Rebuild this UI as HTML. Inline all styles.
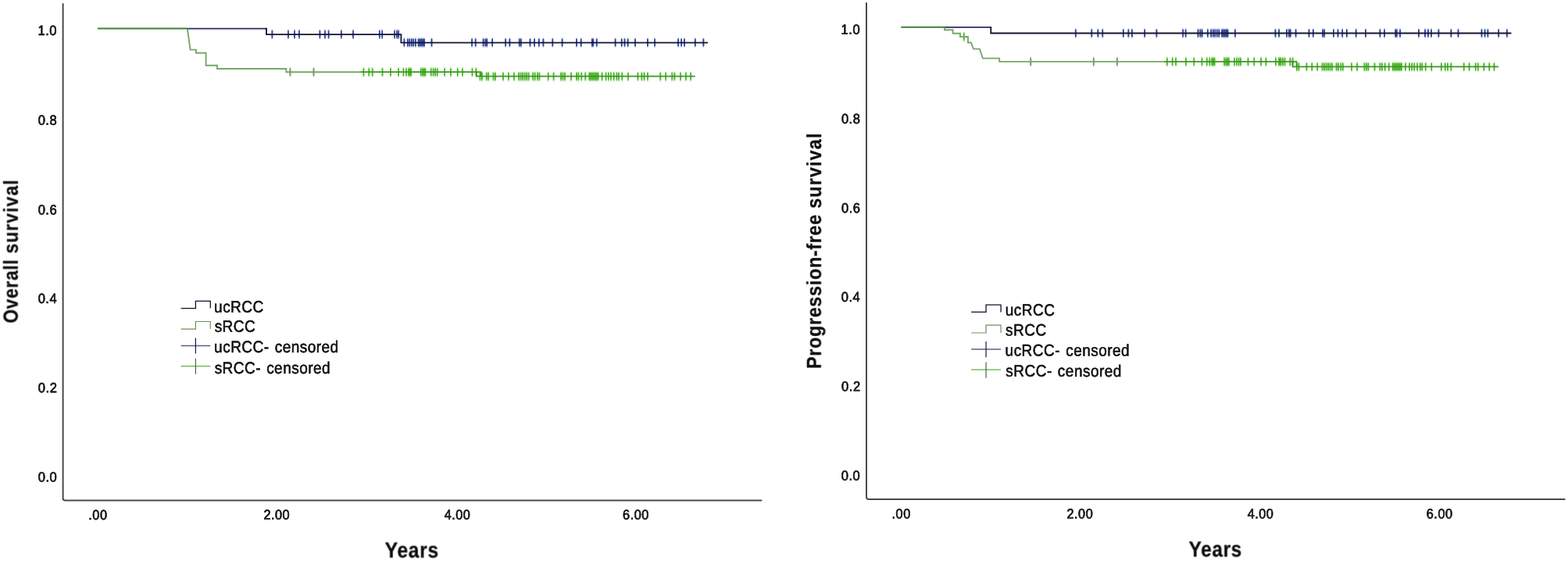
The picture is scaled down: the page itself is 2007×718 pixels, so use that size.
<!DOCTYPE html>
<html lang="en">
<head>
<meta charset="utf-8">
<title>Kaplan-Meier curves: overall survival and progression-free survival</title>
<style>
html,body{margin:0;padding:0;background:#fff;}
body{width:2007px;height:718px;overflow:hidden;}
svg{display:block;}
text{font-family:"Liberation Sans",Arial,Helvetica,sans-serif;fill:#0a0a0a;stroke:#0a0a0a;stroke-linejoin:round;stroke-linecap:round;text-rendering:geometricPrecision;}
.tk{stroke-width:0.7px;letter-spacing:0.55px;}
.ttl{font-weight:bold;stroke-width:0.25px;letter-spacing:0.8px;}
.sv{letter-spacing:1.3px;}
.lg{stroke-width:0.55px;letter-spacing:0.5px;word-spacing:1.5px;}
</style>
</head>
<body>
<svg width="2007" height="718" viewBox="0 0 2007 718">
<defs>
<filter id="soft" x="-5%" y="-5%" width="110%" height="110%"><feGaussianBlur stdDeviation="0.5"/></filter>
<filter id="softl" x="-5%" y="-5%" width="110%" height="110%"><feGaussianBlur stdDeviation="0.38"/></filter>
<filter id="softt" x="-5%" y="-5%" width="110%" height="110%"><feGaussianBlur stdDeviation="0.3"/></filter>
</defs>
<rect x="0" y="0" width="2007" height="718" fill="#ffffff"/>
<g filter="url(#soft)">
<path d="M80.6,5V637.5Q80.6,640.5 83.6,640.5H974.5" stroke="#4a4a4a" stroke-width="2.0" stroke-linecap="round" fill="none"/>
<path d="M348.4,37.8V50.0M368.9,37.8V50.0M377.0,37.8V50.0M382.9,37.8V50.0M409.4,37.8V50.0M416.0,37.8V50.0M420.6,37.8V50.0M436.8,37.8V50.0M452.0,37.8V50.0M485.8,37.8V50.0M489.2,37.8V50.0M505.1,37.8V50.0M508.0,37.8V50.0M510.2,37.8V50.0" stroke="#2a3f98" stroke-width="1.7" fill="none" opacity="0.5"/><path d="M348.4,39.4V48.4M368.9,39.4V48.4M377.0,39.4V48.4M382.9,39.4V48.4M409.4,39.4V48.4M416.0,39.4V48.4M420.6,39.4V48.4M436.8,39.4V48.4M452.0,39.4V48.4M485.8,39.4V48.4M489.2,39.4V48.4M505.1,39.4V48.4M508.0,39.4V48.4M510.2,39.4V48.4" stroke="#2a3f98" stroke-width="1.7" fill="none"/>
<path d="M517.4,48.4V60.6M521.8,48.4V60.6M524.3,48.4V60.6M526.8,48.4V60.6M529.3,48.4V60.6M531.9,48.4V60.6M535.6,48.4V60.6M537.5,48.4V60.6M539.4,48.4V60.6M541.3,48.4V60.6M543.1,48.4V60.6M552.5,48.4V60.6M604.1,48.4V60.6M608.7,48.4V60.6M618.6,48.4V60.6M621.4,48.4V60.6M623.3,48.4V60.6M630.2,48.4V60.6M647.1,48.4V60.6M652.4,48.4V60.6M664.7,48.4V60.6M666.8,48.4V60.6M678.5,48.4V60.6M684.1,48.4V60.6M689.8,48.4V60.6M695.4,48.4V60.6M707.3,48.4V60.6M719.6,48.4V60.6M738.0,48.4V60.6M743.7,48.4V60.6M757.8,48.4V60.6M759.3,48.4V60.6M763.7,48.4V60.6M787.6,48.4V60.6M795.7,48.4V60.6M799.5,48.4V60.6M803.6,48.4V60.6M813.0,48.4V60.6M829.0,48.4V60.6M838.1,48.4V60.6M868.1,48.4V60.6M872.2,48.4V60.6M876.0,48.4V60.6M889.8,48.4V60.6M900.4,48.4V60.6" stroke="#2a3f98" stroke-width="1.7" fill="none" opacity="0.5"/><path d="M517.4,50.0V59.0M521.8,50.0V59.0M524.3,50.0V59.0M526.8,50.0V59.0M529.3,50.0V59.0M531.9,50.0V59.0M535.6,50.0V59.0M537.5,50.0V59.0M539.4,50.0V59.0M541.3,50.0V59.0M543.1,50.0V59.0M552.5,50.0V59.0M604.1,50.0V59.0M608.7,50.0V59.0M618.6,50.0V59.0M621.4,50.0V59.0M623.3,50.0V59.0M630.2,50.0V59.0M647.1,50.0V59.0M652.4,50.0V59.0M664.7,50.0V59.0M666.8,50.0V59.0M678.5,50.0V59.0M684.1,50.0V59.0M689.8,50.0V59.0M695.4,50.0V59.0M707.3,50.0V59.0M719.6,50.0V59.0M738.0,50.0V59.0M743.7,50.0V59.0M757.8,50.0V59.0M759.3,50.0V59.0M763.7,50.0V59.0M787.6,50.0V59.0M795.7,50.0V59.0M799.5,50.0V59.0M803.6,50.0V59.0M813.0,50.0V59.0M829.0,50.0V59.0M838.1,50.0V59.0M868.1,50.0V59.0M872.2,50.0V59.0M876.0,50.0V59.0M889.8,50.0V59.0M900.4,50.0V59.0" stroke="#2a3f98" stroke-width="1.7" fill="none"/>
<path d="M465.4,86.2V98.4M472.3,86.2V98.4M476.7,86.2V98.4M489.5,86.2V98.4M499.9,86.2V98.4M510.1,86.2V98.4M516.4,86.2V98.4M519.9,86.2V98.4M522.8,86.2V98.4M524.6,86.2V98.4M526.2,86.2V98.4M538.7,86.2V98.4M540.9,86.2V98.4M542.7,86.2V98.4M544.5,86.2V98.4M551.7,86.2V98.4M554.6,86.2V98.4M557.2,86.2V98.4M559.7,86.2V98.4M569.1,86.2V98.4M576.9,86.2V98.4M585.7,86.2V98.4M592.0,86.2V98.4M604.5,86.2V98.4M609.4,86.2V98.4" stroke="#48b426" stroke-width="1.7" fill="none" opacity="0.5"/><path d="M465.4,87.8V96.8M472.3,87.8V96.8M476.7,87.8V96.8M489.5,87.8V96.8M499.9,87.8V96.8M510.1,87.8V96.8M516.4,87.8V96.8M519.9,87.8V96.8M522.8,87.8V96.8M524.6,87.8V96.8M526.2,87.8V96.8M538.7,87.8V96.8M540.9,87.8V96.8M542.7,87.8V96.8M544.5,87.8V96.8M551.7,87.8V96.8M554.6,87.8V96.8M557.2,87.8V96.8M559.7,87.8V96.8M569.1,87.8V96.8M576.9,87.8V96.8M585.7,87.8V96.8M592.0,87.8V96.8M604.5,87.8V96.8M609.4,87.8V96.8" stroke="#48b426" stroke-width="1.7" fill="none"/>
<path d="M614.5,91.7V103.9M617.0,91.7V103.9M622.7,91.7V103.9M625.2,91.7V103.9M631.5,91.7V103.9M634.0,91.7V103.9M644.0,91.7V103.9M650.9,91.7V103.9M657.8,91.7V103.9M664.1,91.7V103.9M666.6,91.7V103.9M669.1,91.7V103.9M671.6,91.7V103.9M674.1,91.7V103.9M676.6,91.7V103.9M682.2,91.7V103.9M684.7,91.7V103.9M687.9,91.7V103.9M690.4,91.7V103.9M701.7,91.7V103.9M708.6,91.7V103.9M718.0,91.7V103.9M720.5,91.7V103.9M723.0,91.7V103.9M731.1,91.7V103.9M738.0,91.7V103.9M740.5,91.7V103.9M744.3,91.7V103.9M749.3,91.7V103.9M754.3,91.7V103.9M756.2,91.7V103.9M758.1,91.7V103.9M760.0,91.7V103.9M761.9,91.7V103.9M763.7,91.7V103.9M765.6,91.7V103.9M770.6,91.7V103.9M775.6,91.7V103.9M778.8,91.7V103.9M781.9,91.7V103.9M785.7,91.7V103.9M789.4,91.7V103.9M791.9,91.7V103.9M796.3,91.7V103.9M803.9,91.7V103.9M816.4,91.7V103.9M821.4,91.7V103.9M824.6,91.7V103.9M829.0,91.7V103.9M845.3,91.7V103.9M852.2,91.7V103.9M860.3,91.7V103.9M863.4,91.7V103.9M871.0,91.7V103.9M877.9,91.7V103.9M884.1,91.7V103.9" stroke="#48b426" stroke-width="1.7" fill="none" opacity="0.5"/><path d="M614.5,93.3V102.3M617.0,93.3V102.3M622.7,93.3V102.3M625.2,93.3V102.3M631.5,93.3V102.3M634.0,93.3V102.3M644.0,93.3V102.3M650.9,93.3V102.3M657.8,93.3V102.3M664.1,93.3V102.3M666.6,93.3V102.3M669.1,93.3V102.3M671.6,93.3V102.3M674.1,93.3V102.3M676.6,93.3V102.3M682.2,93.3V102.3M684.7,93.3V102.3M687.9,93.3V102.3M690.4,93.3V102.3M701.7,93.3V102.3M708.6,93.3V102.3M718.0,93.3V102.3M720.5,93.3V102.3M723.0,93.3V102.3M731.1,93.3V102.3M738.0,93.3V102.3M740.5,93.3V102.3M744.3,93.3V102.3M749.3,93.3V102.3M754.3,93.3V102.3M756.2,93.3V102.3M758.1,93.3V102.3M760.0,93.3V102.3M761.9,93.3V102.3M763.7,93.3V102.3M765.6,93.3V102.3M770.6,93.3V102.3M775.6,93.3V102.3M778.8,93.3V102.3M781.9,93.3V102.3M785.7,93.3V102.3M789.4,93.3V102.3M791.9,93.3V102.3M796.3,93.3V102.3M803.9,93.3V102.3M816.4,93.3V102.3M821.4,93.3V102.3M824.6,93.3V102.3M829.0,93.3V102.3M845.3,93.3V102.3M852.2,93.3V102.3M860.3,93.3V102.3M863.4,93.3V102.3M871.0,93.3V102.3M877.9,93.3V102.3M884.1,93.3V102.3" stroke="#48b426" stroke-width="1.7" fill="none"/>
<path d="M371.4,86.1V98.3M401.5,86.1V98.3" stroke="#6f9060" stroke-width="1.7" fill="none" opacity="0.5"/><path d="M371.4,87.7V96.7M401.5,87.7V96.7" stroke="#6f9060" stroke-width="1.7" fill="none"/>
</g>
<g filter="url(#softl)">
<path d="M239,36.6H340.3" stroke="#2a2c66" stroke-width="1.85" fill="none"/>
<path d="M339.6,36.6H341V44.1H513.4V54.6H906" stroke="#12152f" stroke-width="1.85" fill="none"/>
<path d="M239.8,36.5L243.6,63.6H251V67.7H263.6V83.7H278V88H366.4V92.2H463" stroke="#76a868" stroke-width="1.9" fill="none"/>
<path d="M462,92.2H615.5V97.7H889.8M610,92.2V97.7H616" stroke="#3d9724" stroke-width="1.7" fill="none"/>
<path d="M125,36.5H240" stroke="#3c8236" stroke-width="2.0" fill="none"/>
</g>
<g filter="url(#softl)">
<path d="M231.6,394.6H250.4V385.4H269.3V394.4" stroke="#10132a" stroke-width="1.3" fill="none"/>
<path d="M231.6,421.2H250.4V411.5H269.3V421.0" stroke="#6b935a" stroke-width="1.2" fill="none"/>
<path d="M231.6,442.4H269.3" stroke="#59618a" stroke-width="1.5" fill="none"/>
<path d="M250.4,432.4V452.6" stroke="#161b3c" stroke-width="1.2" fill="none"/>
<path d="M231.6,468.6H269.3" stroke="#62b043" stroke-width="1.4" fill="none"/>
<path d="M250.4,458.8V478.7" stroke="#3f6d2e" stroke-width="1.2" fill="none"/>
</g>
<g filter="url(#soft)">
<path d="M1109,4V636Q1109,639 1112,639H2002.7" stroke="#4a4a4a" stroke-width="2.0" stroke-linecap="round" fill="none"/>
<path d="M1376.8,36.4V48.6M1397.3,36.4V48.6M1405.4,36.4V48.6M1411.3,36.4V48.6M1437.8,36.4V48.6M1444.4,36.4V48.6M1449.0,36.4V48.6M1465.2,36.4V48.6M1480.4,36.4V48.6M1514.2,36.4V48.6M1517.6,36.4V48.6M1533.5,36.4V48.6M1536.4,36.4V48.6M1538.6,36.4V48.6M1545.8,36.4V48.6M1550.2,36.4V48.6M1552.7,36.4V48.6M1555.2,36.4V48.6M1557.7,36.4V48.6M1560.3,36.4V48.6M1564.0,36.4V48.6M1565.9,36.4V48.6M1567.8,36.4V48.6M1569.7,36.4V48.6M1571.5,36.4V48.6M1580.9,36.4V48.6M1632.5,36.4V48.6M1637.1,36.4V48.6M1647.0,36.4V48.6M1649.8,36.4V48.6M1651.7,36.4V48.6M1658.6,36.4V48.6M1675.5,36.4V48.6M1680.8,36.4V48.6M1693.1,36.4V48.6M1695.2,36.4V48.6M1706.9,36.4V48.6M1712.5,36.4V48.6M1718.2,36.4V48.6M1723.8,36.4V48.6M1735.7,36.4V48.6M1748.0,36.4V48.6M1766.4,36.4V48.6M1772.1,36.4V48.6M1786.2,36.4V48.6M1787.7,36.4V48.6M1792.1,36.4V48.6M1816.0,36.4V48.6M1824.1,36.4V48.6M1827.9,36.4V48.6M1832.0,36.4V48.6M1841.4,36.4V48.6M1857.4,36.4V48.6M1866.5,36.4V48.6M1896.5,36.4V48.6M1900.6,36.4V48.6M1904.4,36.4V48.6M1918.2,36.4V48.6M1928.8,36.4V48.6" stroke="#2a3f98" stroke-width="1.7" fill="none" opacity="0.5"/><path d="M1376.8,38.0V47.0M1397.3,38.0V47.0M1405.4,38.0V47.0M1411.3,38.0V47.0M1437.8,38.0V47.0M1444.4,38.0V47.0M1449.0,38.0V47.0M1465.2,38.0V47.0M1480.4,38.0V47.0M1514.2,38.0V47.0M1517.6,38.0V47.0M1533.5,38.0V47.0M1536.4,38.0V47.0M1538.6,38.0V47.0M1545.8,38.0V47.0M1550.2,38.0V47.0M1552.7,38.0V47.0M1555.2,38.0V47.0M1557.7,38.0V47.0M1560.3,38.0V47.0M1564.0,38.0V47.0M1565.9,38.0V47.0M1567.8,38.0V47.0M1569.7,38.0V47.0M1571.5,38.0V47.0M1580.9,38.0V47.0M1632.5,38.0V47.0M1637.1,38.0V47.0M1647.0,38.0V47.0M1649.8,38.0V47.0M1651.7,38.0V47.0M1658.6,38.0V47.0M1675.5,38.0V47.0M1680.8,38.0V47.0M1693.1,38.0V47.0M1695.2,38.0V47.0M1706.9,38.0V47.0M1712.5,38.0V47.0M1718.2,38.0V47.0M1723.8,38.0V47.0M1735.7,38.0V47.0M1748.0,38.0V47.0M1766.4,38.0V47.0M1772.1,38.0V47.0M1786.2,38.0V47.0M1787.7,38.0V47.0M1792.1,38.0V47.0M1816.0,38.0V47.0M1824.1,38.0V47.0M1827.9,38.0V47.0M1832.0,38.0V47.0M1841.4,38.0V47.0M1857.4,38.0V47.0M1866.5,38.0V47.0M1896.5,38.0V47.0M1900.6,38.0V47.0M1904.4,38.0V47.0M1918.2,38.0V47.0M1928.8,38.0V47.0" stroke="#2a3f98" stroke-width="1.7" fill="none"/>
<path d="M1233.8,40.9V53.1" stroke="#48b426" stroke-width="1.7" fill="none" opacity="0.5"/><path d="M1233.8,42.5V51.5" stroke="#48b426" stroke-width="1.7" fill="none"/>
<path d="M1493.8,72.8V85.0M1500.7,72.8V85.0M1505.1,72.8V85.0M1517.9,72.8V85.0M1528.3,72.8V85.0M1538.5,72.8V85.0M1544.8,72.8V85.0M1548.3,72.8V85.0M1551.2,72.8V85.0M1553.0,72.8V85.0M1554.6,72.8V85.0M1567.1,72.8V85.0M1569.3,72.8V85.0M1571.1,72.8V85.0M1572.9,72.8V85.0M1580.1,72.8V85.0M1583.0,72.8V85.0M1585.6,72.8V85.0M1588.1,72.8V85.0M1597.5,72.8V85.0M1605.3,72.8V85.0M1614.1,72.8V85.0M1620.4,72.8V85.0M1632.9,72.8V85.0M1637.9,72.8V85.0M1637.0,72.8V85.0M1639.5,72.8V85.0M1642.0,72.8V85.0M1644.5,72.8V85.0M1651.4,72.8V85.0M1654.6,72.8V85.0" stroke="#48b426" stroke-width="1.7" fill="none" opacity="0.5"/><path d="M1493.8,74.4V83.4M1500.7,74.4V83.4M1505.1,74.4V83.4M1517.9,74.4V83.4M1528.3,74.4V83.4M1538.5,74.4V83.4M1544.8,74.4V83.4M1548.3,74.4V83.4M1551.2,74.4V83.4M1553.0,74.4V83.4M1554.6,74.4V83.4M1567.1,74.4V83.4M1569.3,74.4V83.4M1571.1,74.4V83.4M1572.9,74.4V83.4M1580.1,74.4V83.4M1583.0,74.4V83.4M1585.6,74.4V83.4M1588.1,74.4V83.4M1597.5,74.4V83.4M1605.3,74.4V83.4M1614.1,74.4V83.4M1620.4,74.4V83.4M1632.9,74.4V83.4M1637.9,74.4V83.4M1637.0,74.4V83.4M1639.5,74.4V83.4M1642.0,74.4V83.4M1644.5,74.4V83.4M1651.4,74.4V83.4M1654.6,74.4V83.4" stroke="#48b426" stroke-width="1.7" fill="none"/>
<path d="M1659.9,79.4V91.6M1662.4,79.4V91.6M1672.4,79.4V91.6M1679.3,79.4V91.6M1686.2,79.4V91.6M1692.5,79.4V91.6M1695.0,79.4V91.6M1697.5,79.4V91.6M1700.0,79.4V91.6M1702.5,79.4V91.6M1705.0,79.4V91.6M1710.6,79.4V91.6M1713.1,79.4V91.6M1716.3,79.4V91.6M1718.8,79.4V91.6M1730.1,79.4V91.6M1737.0,79.4V91.6M1746.4,79.4V91.6M1748.9,79.4V91.6M1751.4,79.4V91.6M1759.5,79.4V91.6M1766.4,79.4V91.6M1768.9,79.4V91.6M1772.7,79.4V91.6M1777.7,79.4V91.6M1782.7,79.4V91.6M1784.6,79.4V91.6M1786.5,79.4V91.6M1788.4,79.4V91.6M1790.3,79.4V91.6M1792.1,79.4V91.6M1794.0,79.4V91.6M1799.0,79.4V91.6M1804.0,79.4V91.6M1807.2,79.4V91.6M1810.3,79.4V91.6M1814.1,79.4V91.6M1817.8,79.4V91.6M1820.3,79.4V91.6M1824.7,79.4V91.6M1832.3,79.4V91.6M1844.8,79.4V91.6M1849.8,79.4V91.6M1853.0,79.4V91.6M1857.4,79.4V91.6M1873.7,79.4V91.6M1880.6,79.4V91.6M1888.7,79.4V91.6M1891.8,79.4V91.6M1899.4,79.4V91.6M1906.3,79.4V91.6M1912.5,79.4V91.6" stroke="#48b426" stroke-width="1.7" fill="none" opacity="0.5"/><path d="M1659.9,81.0V90.0M1662.4,81.0V90.0M1672.4,81.0V90.0M1679.3,81.0V90.0M1686.2,81.0V90.0M1692.5,81.0V90.0M1695.0,81.0V90.0M1697.5,81.0V90.0M1700.0,81.0V90.0M1702.5,81.0V90.0M1705.0,81.0V90.0M1710.6,81.0V90.0M1713.1,81.0V90.0M1716.3,81.0V90.0M1718.8,81.0V90.0M1730.1,81.0V90.0M1737.0,81.0V90.0M1746.4,81.0V90.0M1748.9,81.0V90.0M1751.4,81.0V90.0M1759.5,81.0V90.0M1766.4,81.0V90.0M1768.9,81.0V90.0M1772.7,81.0V90.0M1777.7,81.0V90.0M1782.7,81.0V90.0M1784.6,81.0V90.0M1786.5,81.0V90.0M1788.4,81.0V90.0M1790.3,81.0V90.0M1792.1,81.0V90.0M1794.0,81.0V90.0M1799.0,81.0V90.0M1804.0,81.0V90.0M1807.2,81.0V90.0M1810.3,81.0V90.0M1814.1,81.0V90.0M1817.8,81.0V90.0M1820.3,81.0V90.0M1824.7,81.0V90.0M1832.3,81.0V90.0M1844.8,81.0V90.0M1849.8,81.0V90.0M1853.0,81.0V90.0M1857.4,81.0V90.0M1873.7,81.0V90.0M1880.6,81.0V90.0M1888.7,81.0V90.0M1891.8,81.0V90.0M1899.4,81.0V90.0M1906.3,81.0V90.0M1912.5,81.0V90.0" stroke="#48b426" stroke-width="1.7" fill="none"/>
<path d="M1319.3,72.8V85.0M1399.8,72.8V85.0M1429.9,72.8V85.0" stroke="#6f9060" stroke-width="1.7" fill="none" opacity="0.5"/><path d="M1319.3,74.4V83.4M1399.8,74.4V83.4M1429.9,74.4V83.4" stroke="#6f9060" stroke-width="1.7" fill="none"/>
</g>
<g filter="url(#softl)">
<path d="M1208,34.9H1267.6" stroke="#2a2c66" stroke-width="1.85" fill="none"/>
<path d="M1267,34.9H1268.3V42.5H1934.4" stroke="#12152f" stroke-width="1.85" fill="none"/>
<path d="M1209,34.8V38.2H1219.6V42.8H1229V47H1239V54.5H1242.8L1246,62.6H1254L1257.9,74.6H1279.2V78.9H1490" stroke="#76a868" stroke-width="1.9" fill="none"/>
<path d="M1490,78.8H1659.6V85.4H1918M1654.6,78.8V85.4H1660" stroke="#3d9724" stroke-width="1.7" fill="none"/>
<path d="M1153.3,34.8H1209.5" stroke="#3c8236" stroke-width="2.0" fill="none"/>
</g>
<g filter="url(#softl)">
<path d="M1243.2,399.3H1262.1V390.1H1281.1V399.5" stroke="#10132a" stroke-width="1.3" fill="none"/>
<path d="M1243.2,426.0H1262.1V416.1H1281.1V426.0" stroke="#6b935a" stroke-width="1.2" fill="none"/>
<path d="M1243.2,447.1H1281.1" stroke="#59618a" stroke-width="1.5" fill="none"/>
<path d="M1262.1,437.0V457.3" stroke="#161b3c" stroke-width="1.2" fill="none"/>
<path d="M1243.2,473.1H1281.1" stroke="#62b043" stroke-width="1.4" fill="none"/>
<path d="M1262.1,463.4V483.7" stroke="#3f6d2e" stroke-width="1.2" fill="none"/>
</g>
<g filter="url(#softt)">
<text class="tk" transform="translate(48.51,45.11) rotate(0.04) scale(0.9350,1.0000)" font-size="17.70">1.0</text>
<text class="tk" transform="translate(48.66,159.65) rotate(0.04) scale(0.9350,1.0000)" font-size="17.70">0.8</text>
<text class="tk" transform="translate(48.66,274.49) rotate(0.04) scale(0.9350,1.0000)" font-size="17.70">0.6</text>
<text class="tk" transform="translate(48.65,387.91) rotate(0.04) scale(0.9350,1.0000)" font-size="17.70">0.4</text>
<text class="tk" transform="translate(48.85,502.20) rotate(0.04) scale(0.9350,1.0000)" font-size="17.70">0.2</text>
<text class="tk" transform="translate(48.76,616.48) rotate(0.04) scale(0.9350,1.0000)" font-size="17.70">0.0</text>
<text class="tk" transform="translate(113.33,665.06) rotate(0.04) scale(0.9200,1.0000)" font-size="17.70">.00</text>
<text class="tk" transform="translate(337.40,664.83) rotate(0.04) scale(0.9200,1.0000)" font-size="17.70">2.00</text>
<text class="tk" transform="translate(568.66,664.83) rotate(0.04) scale(0.9200,1.0000)" font-size="17.70">4.00</text>
<text class="tk" transform="translate(797.12,664.83) rotate(0.04) scale(0.9200,1.0000)" font-size="17.70">6.00</text>
<text class="ttl" transform="translate(492.56,713.46) rotate(0.04) scale(0.8850,1.0000)" font-size="27.80">Years</text>
<text class="ttl" transform="translate(22.60,413.77) rotate(-89.96) scale(0.8768,1.0000)" font-size="26.00">Overall <tspan class="sv">survival</tspan></text>
<text class="lg" transform="translate(274.10,399.84) rotate(0.04) scale(0.9070,1.0000)" font-size="21.00">ucRCC</text>
<text class="lg" transform="translate(274.63,424.82) rotate(0.04) scale(0.9070,1.0000)" font-size="21.00">sRCC</text>
<text class="lg" transform="translate(274.11,450.96) rotate(0.04) scale(0.9070,1.0000)" font-size="21.00">ucRCC- censored</text>
<text class="lg" transform="translate(274.64,477.89) rotate(0.04) scale(0.9070,1.0000)" font-size="21.00">sRCC- censored</text>
<text class="tk" transform="translate(1076.62,43.64) rotate(0.04) scale(0.9350,1.0000)" font-size="17.70">1.0</text>
<text class="tk" transform="translate(1076.91,158.06) rotate(0.04) scale(0.9350,1.0000)" font-size="17.70">0.8</text>
<text class="tk" transform="translate(1076.93,272.16) rotate(0.04) scale(0.9350,1.0000)" font-size="17.70">0.6</text>
<text class="tk" transform="translate(1076.73,386.09) rotate(0.04) scale(0.9350,1.0000)" font-size="17.70">0.4</text>
<text class="tk" transform="translate(1077.07,500.46) rotate(0.04) scale(0.9350,1.0000)" font-size="17.70">0.2</text>
<text class="tk" transform="translate(1076.80,614.65) rotate(0.04) scale(0.9350,1.0000)" font-size="17.70">0.0</text>
<text class="tk" transform="translate(1141.57,663.39) rotate(0.04) scale(0.9200,1.0000)" font-size="17.70">.00</text>
<text class="tk" transform="translate(1365.49,663.42) rotate(0.04) scale(0.9200,1.0000)" font-size="17.70">2.00</text>
<text class="tk" transform="translate(1596.64,663.39) rotate(0.04) scale(0.9200,1.0000)" font-size="17.70">4.00</text>
<text class="tk" transform="translate(1825.81,663.38) rotate(0.04) scale(0.9200,1.0000)" font-size="17.70">6.00</text>
<text class="ttl" transform="translate(1521.53,712.29) rotate(0.04) scale(0.8750,1.0000)" font-size="27.80">Years</text>
<text class="ttl" transform="translate(1050.73,472.06) rotate(-89.96) scale(0.8968,1.0000)" font-size="26.00">Progression-free <tspan class="sv">survival</tspan></text>
<text class="lg" transform="translate(1286.72,403.85) rotate(0.04) scale(0.9070,1.0000)" font-size="21.00">ucRCC</text>
<text class="lg" transform="translate(1287.00,429.51) rotate(0.04) scale(0.9070,1.0000)" font-size="21.00">sRCC</text>
<text class="lg" transform="translate(1286.60,455.37) rotate(0.04) scale(0.9070,1.0000)" font-size="21.00">ucRCC- censored</text>
<text class="lg" transform="translate(1287.35,481.82) rotate(0.04) scale(0.9070,1.0000)" font-size="21.00">sRCC- censored</text>
</g>
</svg>
</body>
</html>
